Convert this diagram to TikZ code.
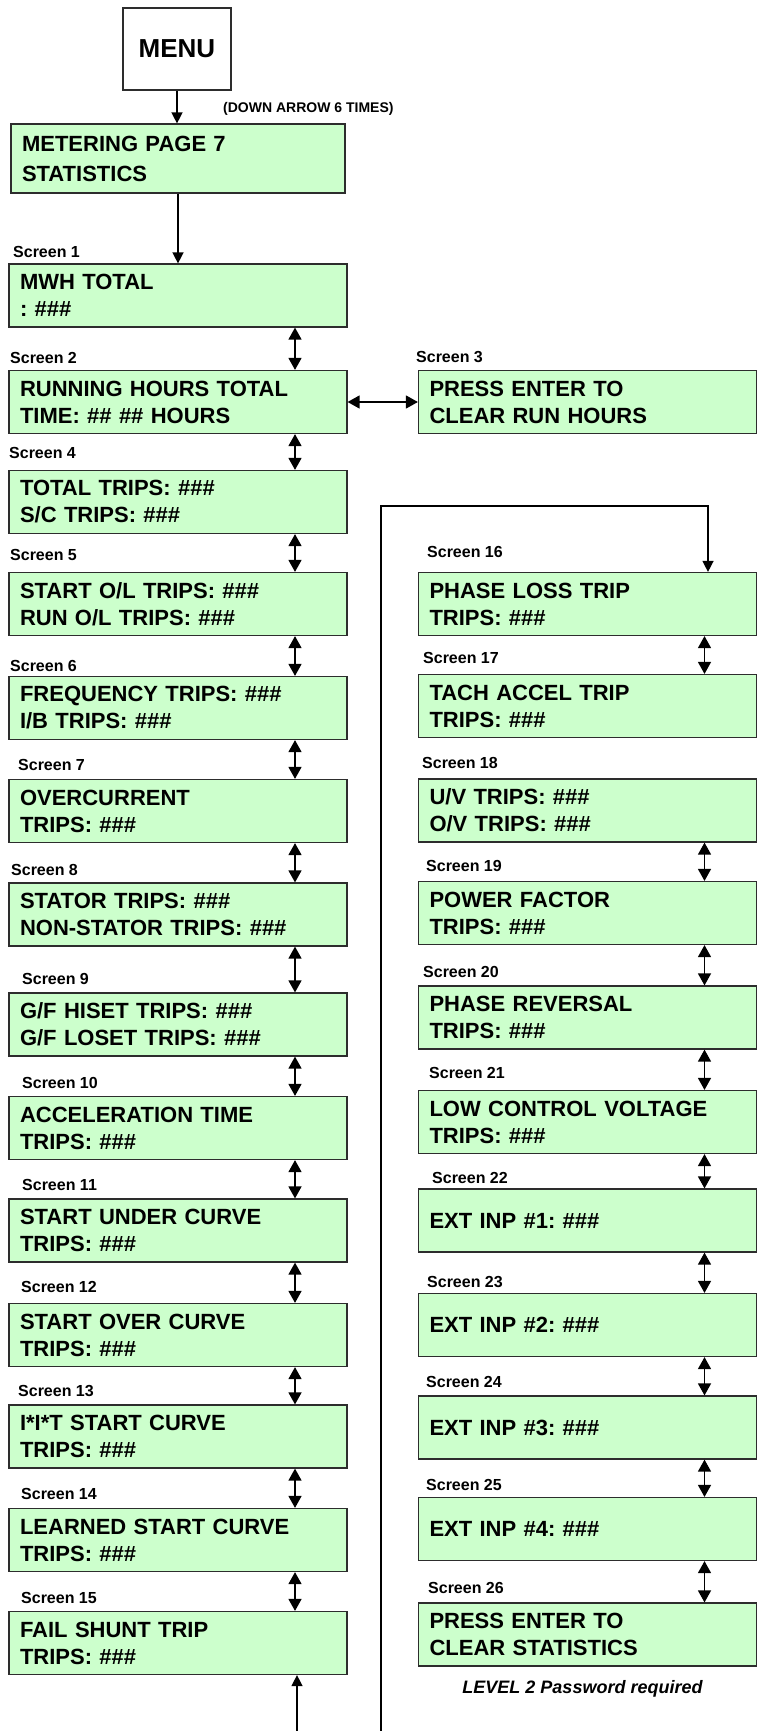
\documentclass[tikz,border=0pt]{standalone}
\usepackage{fontspec}
\setmainfont{Liberation Sans}
\usepackage{xcolor}
\usepackage{tikz}
\usetikzlibrary{arrows.meta, positioning, calc}
\definecolor{screengreen}{RGB}{204, 255, 204}
\definecolor{edgegray}{RGB}{45, 45, 45}
\frenchspacing

\begin{document}
\begin{tikzpicture}[
    x=1pt, y=-1pt,
    screen/.style={rectangle, draw=edgegray, fill=screengreen, line width=1.2pt, minimum height=63pt, text width=316pt, inner xsep=11pt, inner ysep=0pt, align=left, font=\fontsize{22}{27}\selectfont\bfseries},
    tag/.style={anchor=west, inner sep=0pt, font=\fontsize{16}{18}\selectfont\bfseries},
    arrow/.style={-{Triangle[length=11pt, width=11pt]}, line width=1.4pt},
    dbl/.style={{Triangle[length=12pt, width=13pt]}-{Triangle[length=12pt, width=13pt]}, line width=1.4pt}
]
\useasboundingbox (0,0) rectangle (764,1731);

% Menu
\node[draw=edgegray, line width=1.2pt, minimum width=108pt, minimum height=82pt, font=\fontsize{26}{30}\selectfont\bfseries] (menu) at (177,49) {MENU};
\node[anchor=west, inner sep=0pt, font=\fontsize{14}{16}\selectfont\bfseries] (presses) at (223,109) {(DOWN ARROW 6 TIMES)};
\node[screen, minimum height=69pt, text width=312pt, font=\fontsize{22}{30}\selectfont\bfseries] (met) at (178,158.5) {METERING PAGE 7\\STATISTICS};

% Left column
\node[tag] (l1) at (13,252) {Screen 1};
\node[screen] (s1) at (178,295.5) {MWH TOTAL\\: \#\#\#};
\node[tag] (l2) at (10,358) {Screen 2};
\node[screen] (s2) at (178,402) {RUNNING HOURS TOTAL\\TIME: \#\# \#\# HOURS};
\node[tag] (l4) at (9,453) {Screen 4};
\node[screen] (s4) at (178,502) {TOTAL TRIPS: \#\#\#\\S/C TRIPS: \#\#\#};
\node[tag] (l5) at (10,555) {Screen 5};
\node[screen] (s5) at (178,604) {START O/L TRIPS: \#\#\#\\RUN O/L TRIPS: \#\#\#};
\node[tag] (l6) at (10,666) {Screen 6};
\node[screen] (s6) at (178,708) {FREQUENCY TRIPS: \#\#\#\\I/B TRIPS: \#\#\#};
\node[tag] (l7) at (18,765) {Screen 7};
\node[screen] (s7) at (178,811) {OVERCURRENT\\TRIPS: \#\#\#};
\node[tag] (l8) at (11,870) {Screen 8};
\node[screen] (s8) at (178,914.5) {STATOR TRIPS: \#\#\#\\NON-STATOR TRIPS: \#\#\#};
\node[tag] (l9) at (22,979) {Screen 9};
\node[screen] (s9) at (178,1024.5) {G/F HISET TRIPS: \#\#\#\\G/F LOSET TRIPS: \#\#\#};
\node[tag] (l10) at (22,1083) {Screen 10};
\node[screen] (s10) at (178,1128) {ACCELERATION TIME\\TRIPS: \#\#\#};
\node[tag] (l11) at (22,1185) {Screen 11};
\node[screen] (s11) at (178,1230.5) {START UNDER CURVE\\TRIPS: \#\#\#};
\node[tag] (l12) at (21,1287) {Screen 12};
\node[screen] (s12) at (178,1335) {START OVER CURVE\\TRIPS: \#\#\#};
\node[tag] (l13) at (18,1391) {Screen 13};
\node[screen] (s13) at (178,1436.5) {I*I*T START CURVE\\TRIPS: \#\#\#};
\node[tag] (l14) at (21,1494) {Screen 14};
\node[screen] (s14) at (178,1540) {LEARNED START CURVE\\TRIPS: \#\#\#};
\node[tag] (l15) at (21,1598) {Screen 15};
\node[screen] (s15) at (178,1643) {FAIL SHUNT TRIP\\TRIPS: \#\#\#};

% Right column
\node[tag] (l3) at (416,357) {Screen 3};
\node[screen] (s3) at (587.5,402) {PRESS ENTER TO\\CLEAR RUN HOURS};
\node[tag] (l16) at (427,552) {Screen 16};
\node[screen] (s16) at (587.5,604) {PHASE LOSS TRIP\\TRIPS: \#\#\#};
\node[tag] (l17) at (423,658) {Screen 17};
\node[screen] (s17) at (587.5,706) {TACH ACCEL TRIP\\TRIPS: \#\#\#};
\node[tag] (l18) at (422,763) {Screen 18};
\node[screen] (s18) at (587.5,810.5) {U/V TRIPS: \#\#\#\\O/V TRIPS: \#\#\#};
\node[tag] (l19) at (426,866) {Screen 19};
\node[screen] (s19) at (587.5,913) {POWER FACTOR\\TRIPS: \#\#\#};
\node[tag] (l20) at (423,972) {Screen 20};
\node[screen] (s20) at (587.5,1017.5) {PHASE REVERSAL\\TRIPS: \#\#\#};
\node[tag] (l21) at (429,1073) {Screen 21};
\node[screen] (s21) at (587.5,1122) {LOW CONTROL VOLTAGE\\TRIPS: \#\#\#};
\node[tag] (l22) at (432,1178) {Screen 22};
\node[screen] (s22) at (587.5,1220.5) {EXT INP \#1: \#\#\#};
\node[tag] (l23) at (427,1282) {Screen 23};
\node[screen] (s23) at (587.5,1325) {EXT INP \#2: \#\#\#};
\node[tag] (l24) at (426,1382) {Screen 24};
\node[screen] (s24) at (587.5,1427.5) {EXT INP \#3: \#\#\#};
\node[tag] (l25) at (426,1485) {Screen 25};
\node[screen] (s25) at (587.5,1529) {EXT INP \#4: \#\#\#};
\node[tag] (l26) at (428,1588) {Screen 26};
\node[screen] (s26) at (587.5,1634.5) {PRESS ENTER TO\\CLEAR STATISTICS};
\node[font=\fontsize{18}{20}\selectfont\bfseries\itshape] (pwnote) at (582.5,1689) {LEVEL 2 Password required};

% Entry arrows
\draw[arrow] (menu.south) -- (menu.south |- met.north);
\draw[arrow] (met.south) -- (s1.north);
\draw[dbl] (s2.east) -- (s3.west);

% Left column arrows
\draw[dbl] ([xshift=117pt]s1.south) -- ([xshift=117pt]s2.north);
\draw[dbl] ([xshift=117pt]s2.south) -- ([xshift=117pt]s4.north);
\draw[dbl] ([xshift=117pt]s4.south) -- ([xshift=117pt]s5.north);
\draw[dbl] ([xshift=117pt]s5.south) -- ([xshift=117pt]s6.north);
\draw[dbl] ([xshift=117pt]s6.south) -- ([xshift=117pt]s7.north);
\draw[dbl] ([xshift=117pt]s7.south) -- ([xshift=117pt]s8.north);
\draw[dbl] ([xshift=117pt]s8.south) -- ([xshift=117pt]s9.north);
\draw[dbl] ([xshift=117pt]s9.south) -- ([xshift=117pt]s10.north);
\draw[dbl] ([xshift=117pt]s10.south) -- ([xshift=117pt]s11.north);
\draw[dbl] ([xshift=117pt]s11.south) -- ([xshift=117pt]s12.north);
\draw[dbl] ([xshift=117pt]s12.south) -- ([xshift=117pt]s13.north);
\draw[dbl] ([xshift=117pt]s13.south) -- ([xshift=117pt]s14.north);
\draw[dbl] ([xshift=117pt]s14.south) -- ([xshift=117pt]s15.north);

% Right column arrows
\draw[dbl] ([xshift=117pt]s16.south) -- ([xshift=117pt]s17.north);
\draw[dbl] ([xshift=117pt]s18.south) -- ([xshift=117pt]s19.north);
\draw[dbl] ([xshift=117pt]s19.south) -- ([xshift=117pt]s20.north);
\draw[dbl] ([xshift=117pt]s20.south) -- ([xshift=117pt]s21.north);
\draw[dbl] ([xshift=117pt]s21.south) -- ([xshift=117pt]s22.north);
\draw[dbl] ([xshift=117pt]s22.south) -- ([xshift=117pt]s23.north);
\draw[dbl] ([xshift=117pt]s23.south) -- ([xshift=117pt]s24.north);
\draw[dbl] ([xshift=117pt]s24.south) -- ([xshift=117pt]s25.north);
\draw[dbl] ([xshift=117pt]s25.south) -- ([xshift=117pt]s26.north);

% Loop back
\coordinate (loopout) at (297,1731);
\coordinate (loopin) at (381,1731);
\coordinate (looptop) at (708,506);
\draw[arrow] (loopout) -- (loopout |- s15.south);
\draw[arrow] (loopin) |- (looptop) -- (looptop |- s16.north);
\end{tikzpicture}
\end{document}
